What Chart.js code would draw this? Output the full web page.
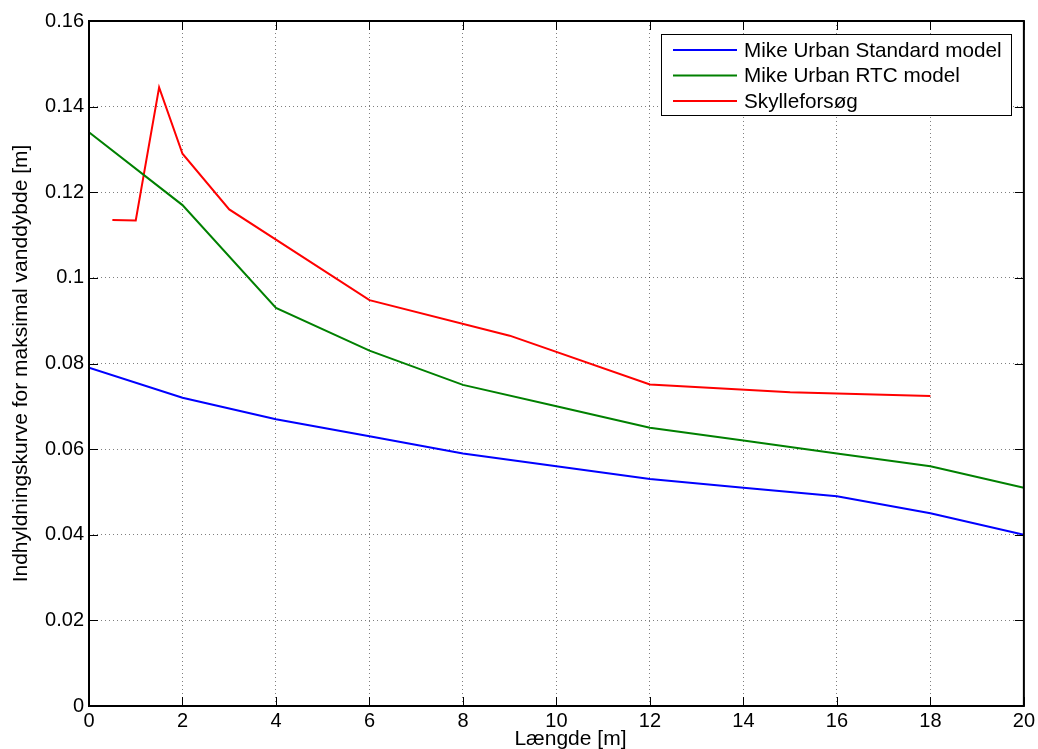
<!DOCTYPE html>
<html>
<head>
<meta charset="utf-8">
<title>Indhyldningskurve</title>
<script src="https://cdn.jsdelivr.net/npm/chart.js@4/dist/chart.umd.min.js"></script>
<style>
  html, body { margin: 0; padding: 0; background: #fff; }
  #wrap { width: 1038px; height: 749px; }
</style>
</head>
<body>
<div id="wrap"><canvas id="depthChart" width="1038" height="749"></canvas></div>
<script>
// Længde [m] og maksimal vanddybde [m] for hver serie
const lengthModel = [0, 2, 4, 6, 8, 10, 12, 14, 16, 18, 20];
const depthStandard = [0.079, 0.072, 0.067, 0.063, 0.059, 0.056, 0.053, 0.051, 0.049, 0.045, 0.040];
const depthRTC = [0.134, 0.117, 0.093, 0.083, 0.075, 0.070, 0.065, 0.062, 0.059, 0.056, 0.051];

const lengthFlush = [0.5, 1, 1.5, 2, 3, 6, 9, 12, 15, 18];
const depthFlush = [0.1135, 0.1134, 0.1445, 0.129, 0.116, 0.0948, 0.0865, 0.0751, 0.0733, 0.0724];

const xTicks = [0, 2, 4, 6, 8, 10, 12, 14, 16, 18, 20];
const yTicks = [0, 0.02, 0.04, 0.06, 0.08, 0.1, 0.12, 0.14, 0.16];

const X_LABEL = 'Længde [m]';
const FONT = '"Liberation Sans", Arial, Helvetica, sans-serif';

function toPoints(xs, ys) {
    return xs.map((x, i) => ({ x: x, y: ys[i] }));
}

// Ramme, indadvendte tick-mærker, x-label og legende i MATLAB-stil
const matlabFrame = {
    id: 'matlabFrame',
    afterDatasetsDraw(chart) {
        const { ctx, chartArea: a, scales } = chart;
        const tickLen = 9;
        ctx.save();
        ctx.strokeStyle = '#000';
        ctx.lineWidth = 1;
        ctx.beginPath();
        xTicks.forEach(v => {
            const px = Math.round(scales.x.getPixelForValue(v)) + 0.5;
            ctx.moveTo(px, a.bottom); ctx.lineTo(px, a.bottom - tickLen);
            ctx.moveTo(px, a.top); ctx.lineTo(px, a.top + tickLen);
        });
        yTicks.forEach(v => {
            const py = Math.round(scales.y.getPixelForValue(v)) + 0.5;
            ctx.moveTo(a.left, py); ctx.lineTo(a.left + tickLen, py);
            ctx.moveTo(a.right, py); ctx.lineTo(a.right - tickLen, py);
        });
        ctx.stroke();

        ctx.lineWidth = 2;
        ctx.strokeRect(a.left, a.top, a.right - a.left, a.bottom - a.top);

        // x-aksens label, lidt højre for midten
        ctx.font = '21px ' + FONT;
        ctx.fillStyle = '#000';
        ctx.textAlign = 'center';
        ctx.textBaseline = 'alphabetic';
        ctx.fillText(X_LABEL, (a.left + a.right) / 2 + 14, 745);

        // legende
        const box = { x: 661.5, y: 34.5, w: 350, h: 81 };
        ctx.fillStyle = '#fff';
        ctx.fillRect(box.x, box.y, box.w, box.h);
        ctx.lineWidth = 1;
        ctx.strokeStyle = '#000';
        ctx.strokeRect(box.x, box.y, box.w, box.h);
        ctx.font = '20.7px ' + FONT;
        ctx.textBaseline = 'middle';
        ctx.textAlign = 'left';
        chart.data.datasets.forEach((ds, i) => {
            const y = 50 + i * 25.5;
            ctx.strokeStyle = ds.borderColor;
            ctx.lineWidth = 2;
            ctx.beginPath();
            ctx.moveTo(673, y);
            ctx.lineTo(737, y);
            ctx.stroke();
            ctx.fillStyle = '#000';
            ctx.fillText(ds.label, 744, y + 1);
        });
        ctx.restore();
    }
};

const gridStyle = {
    color: 'rgba(0, 0, 0, 0.5)',
    lineWidth: 1,
    drawTicks: false
};

new Chart(document.getElementById('depthChart'), {
    type: 'line',
    data: {
        datasets: [
            {
                label: 'Mike Urban Standard model',
                data: toPoints(lengthModel, depthStandard),
                borderColor: '#0000ff',
                borderWidth: 2,
                pointRadius: 0,
                tension: 0
            },
            {
                label: 'Mike Urban RTC model',
                data: toPoints(lengthModel, depthRTC),
                borderColor: '#008000',
                borderWidth: 2,
                pointRadius: 0,
                tension: 0
            },
            {
                label: 'Skylleforsøg',
                data: toPoints(lengthFlush, depthFlush),
                borderColor: '#ff0000',
                borderWidth: 2,
                pointRadius: 0,
                tension: 0
            }
        ]
    },
    options: {
        responsive: false,
        animation: false,
        layout: { padding: { top: 21, right: 13, left: 0, bottom: 0 } },
        plugins: {
            legend: { display: false },
            tooltip: { enabled: false }
        },
        scales: {
            x: {
                type: 'linear',
                min: 0,
                max: 20,
                afterFit(scale) { scale.height = 43; },
                afterBuildTicks(scale) { scale.ticks = xTicks.map(v => ({ value: v })); },
                grid: gridStyle,
                border: { display: false, dash: [1, 3] },
                ticks: {
                    color: '#000',
                    font: { family: FONT, size: 20 },
                    padding: 3,
                    maxRotation: 0,
                    autoSkip: false,
                    callback: v => String(v)
                },
                title: { display: false }
            },
            y: {
                type: 'linear',
                min: 0,
                max: 0.16,
                afterFit(scale) { scale.width = 89; },
                afterBuildTicks(scale) { scale.ticks = yTicks.map(v => ({ value: v })); },
                grid: gridStyle,
                border: { display: false, dash: [1, 3] },
                ticks: {
                    color: '#000',
                    font: { family: FONT, size: 20 },
                    padding: 5,
                    autoSkip: false,
                    callback: v => String(Number(v.toFixed(2)))
                },
                title: {
                    display: true,
                    text: 'Indhyldningskurve for maksimal vanddybde [m]',
                    color: '#000',
                    font: { family: FONT, size: 21, lineHeight: 1.1 },
                    padding: { top: 10, bottom: 0 }
                }
            }
        }
    },
    plugins: [matlabFrame]
});
</script>
</body>
</html>
